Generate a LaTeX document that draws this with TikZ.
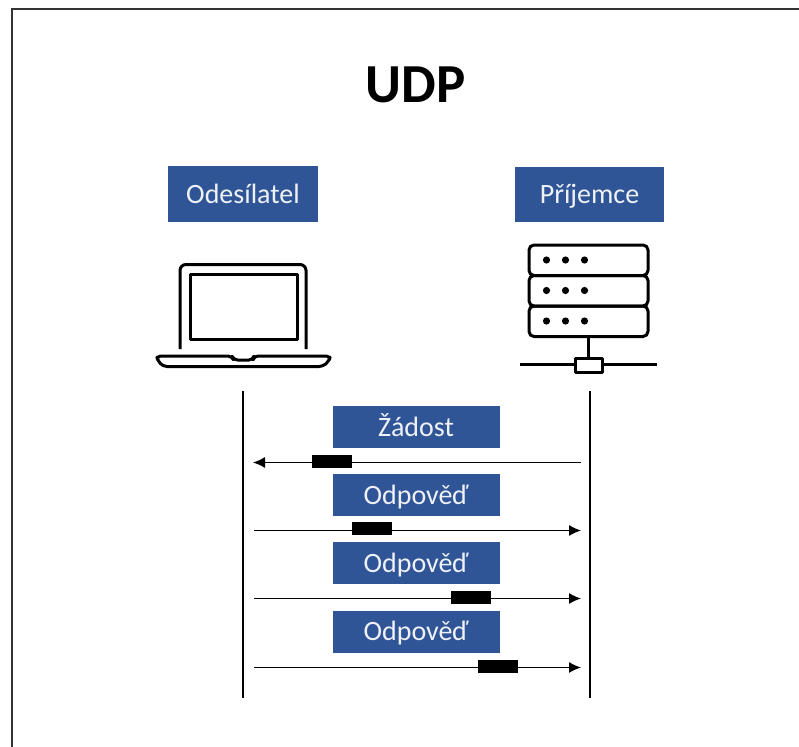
\documentclass[tikz,border=0pt]{standalone}
\usepackage{fontspec}
\setmainfont{Carlito}
\definecolor{bluebox}{HTML}{2F5597}
\usetikzlibrary{arrows.meta}
\tikzset{
  x=1pt,y=-1pt,
  label box/.style={fill=bluebox,text=white!92!bluebox,inner sep=0pt,font=\fontsize{28}{32}\selectfont,anchor=center,text height=21pt,text depth=3pt},
  icon/.style={draw=black,line width=3pt,line join=round},
  life/.style={draw=black,line width=1.2pt},
  msg/.style={draw=black,line width=1.2pt,-{Latex[length=12pt,width=11pt]}},
  packet/.style={fill=black,minimum width=40pt,minimum height=13pt,inner sep=0pt},
}
\begin{document}
\begin{tikzpicture}
\useasboundingbox (0,0) rectangle (799,746);
\draw[draw=black!80,line width=2pt] (12,760) -- (12,9.5) -- (810,9.5);
\node[font=\fontsize{55}{60}\selectfont\bfseries] (title) at (415.5,85) {UDP};
\node[label box,minimum width=150pt,minimum height=56pt] (snd) at (243,194) {Odesílatel};
\node[label box,minimum width=149pt,minimum height=55pt] (rcv) at (589.5,194.5) {Příjemce};
% laptop
\draw[icon,rounded corners=6pt] (180,349) -- (180,264.5) -- (306,264.5) -- (306,349);
\draw[icon] (190,274) rectangle (297,339);
\draw[icon,rounded corners=4pt] (156.5,356) -- (232,356) -- (233.5,360) -- (253,360) -- (254,356) -- (330.5,356) -- (329,361) -- (323,366.5) -- (163,366.5) -- (158,361) -- cycle;
% server
\draw[icon,rounded corners=5pt] (529,245) rectangle (648,275.5);
\draw[icon,rounded corners=5pt] (529,275.5) rectangle (648,306);
\draw[icon,rounded corners=5pt] (529,306) rectangle (648,336.5);
\foreach \yy in {260,290.5,321}{\foreach \xx in {546.5,565.5,584.5}{\fill (\xx,\yy) circle (3.6pt);}}
\draw[icon] (588.5,336.5) -- (588.5,358);
\draw[icon] (520,364.5) -- (575,364.5);
\draw[icon] (602,364.5) -- (657,364.5);
\draw[icon] (575,358) rectangle (602,372);
% lifelines
\coordinate (la) at (243,391); \coordinate (lb) at (243,698);
\coordinate (ra) at (590,391); \coordinate (rb) at (590,698);
\draw[life] (la) -- (lb);
\draw[life] (ra) -- (rb);
% messages
\node[label box,minimum width=167pt,minimum height=42pt] (m1) at (416,427) {Žádost};
\node[label box,minimum width=167pt,minimum height=42pt] (m2) at (416,495) {Odpověď};
\node[label box,minimum width=167pt,minimum height=42pt] (m3) at (416,563) {Odpověď};
\node[label box,minimum width=167pt,minimum height=42pt] (m4) at (416,631.5) {Odpověď};
\coordinate (a1s) at (581,462.5); \coordinate (a1e) at (253,462.5);
\coordinate (a2s) at (254,530.5); \coordinate (a2e) at (581,530.5);
\coordinate (a3s) at (254,598.5); \coordinate (a3e) at (581,598.5);
\coordinate (a4s) at (254,667.5); \coordinate (a4e) at (581,667.5);
\draw[msg] (a1s) -- (a1e);
\draw[msg] (a2s) -- (a2e);
\draw[msg] (a3s) -- (a3e);
\draw[msg] (a4s) -- (a4e);
\node[packet] (p1) at (331.5,461) {};
\node[packet] (p2) at (372,528.5) {};
\node[packet] (p3) at (470.5,597.5) {};
\node[packet] (p4) at (497.5,666.5) {};
\end{tikzpicture}
\end{document}
